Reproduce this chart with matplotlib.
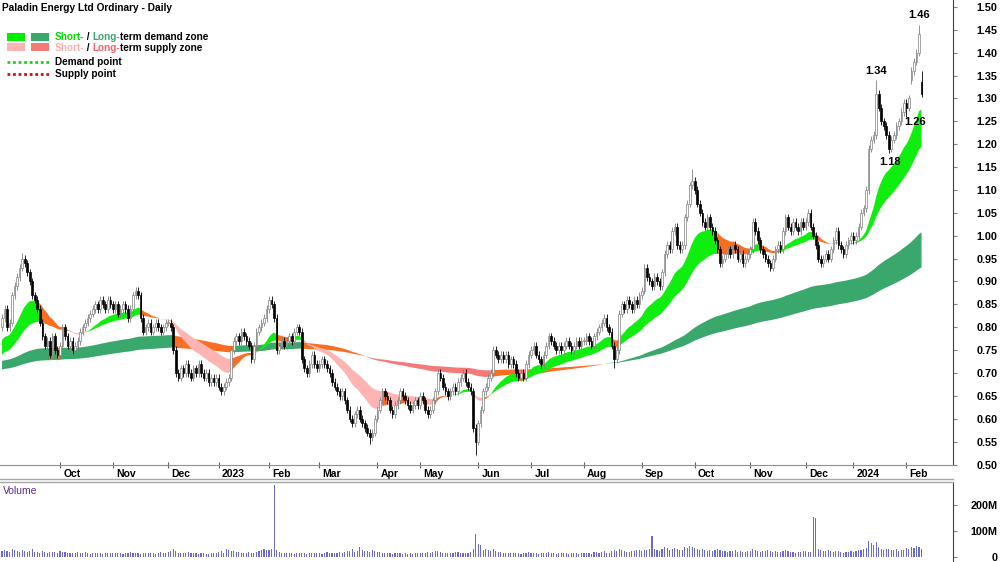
import numpy as np
import pandas as pd
import matplotlib
matplotlib.use("Agg")
import matplotlib.pyplot as plt
from matplotlib import transforms
from matplotlib.patches import Rectangle

plt.rcParams['font.family'] = ['Liberation Sans', 'DejaVu Sans']

# daily closes, one list per month
sep22 = [0.82, 0.84, 0.80, 0.81, 0.87, 0.89, 0.91, 0.93, 0.95, 0.94, 0.92, 0.90, 0.87, 0.86, 0.84, 0.81,
         0.78, 0.76, 0.77, 0.74, 0.78, 0.75, 0.74]
oct22 = [0.76, 0.80, 0.78, 0.76, 0.77, 0.75, 0.76, 0.77, 0.79, 0.80, 0.81, 0.82, 0.83, 0.84, 0.85, 0.84,
         0.86, 0.85, 0.84, 0.86, 0.85]
nov22 = [0.84, 0.85, 0.83, 0.84, 0.85, 0.84, 0.82, 0.84, 0.87, 0.88, 0.87, 0.82, 0.79, 0.80, 0.81, 0.79,
         0.80, 0.81, 0.80, 0.79, 0.80, 0.81]
dec22 = [0.81, 0.80, 0.75, 0.70, 0.69, 0.71, 0.70, 0.72, 0.70, 0.69, 0.71, 0.70, 0.72, 0.70, 0.69, 0.70,
         0.68, 0.69, 0.68, 0.69]
jan23 = [0.67, 0.66, 0.67, 0.68, 0.69, 0.75, 0.77, 0.78, 0.77, 0.79, 0.78, 0.77, 0.76, 0.73, 0.76, 0.79,
         0.80, 0.81, 0.82, 0.84]
feb23 = [0.86, 0.85, 0.82, 0.75, 0.76, 0.77, 0.76, 0.77, 0.78, 0.77, 0.79, 0.80, 0.79, 0.73, 0.71, 0.70,
         0.72, 0.74, 0.72, 0.71]
mar23 = [0.72, 0.73, 0.72, 0.71, 0.70, 0.68, 0.67, 0.66, 0.65, 0.66, 0.64, 0.62, 0.60, 0.59, 0.61, 0.62,
         0.60, 0.59, 0.58, 0.57, 0.56, 0.57, 0.60]
apr23 = [0.62, 0.64, 0.66, 0.65, 0.64, 0.62, 0.61, 0.63, 0.64, 0.66, 0.65, 0.64, 0.63, 0.62, 0.63, 0.64, 0.63]
may23 = [0.65, 0.64, 0.62, 0.61, 0.62, 0.64, 0.66, 0.70, 0.69, 0.67, 0.66, 0.65, 0.66, 0.67, 0.66, 0.68,
         0.69, 0.70, 0.68, 0.67, 0.66, 0.58, 0.55]
jun23 = [0.59, 0.62, 0.66, 0.67, 0.69, 0.70, 0.75, 0.74, 0.73, 0.74, 0.73, 0.74, 0.72, 0.73, 0.72, 0.70,
         0.69, 0.70, 0.69, 0.72, 0.74]
jul23 = [0.75, 0.76, 0.74, 0.73, 0.72, 0.74, 0.76, 0.78, 0.77, 0.76, 0.75, 0.76, 0.75, 0.76, 0.77, 0.76,
         0.75, 0.76, 0.77, 0.76, 0.77]
aug23 = [0.77, 0.78, 0.77, 0.76, 0.78, 0.79, 0.80, 0.81, 0.82, 0.80, 0.79, 0.76, 0.73, 0.75, 0.83, 0.85,
         0.84, 0.86, 0.85, 0.84, 0.86, 0.85, 0.87]
sep23 = [0.88, 0.93, 0.91, 0.90, 0.89, 0.91, 0.90, 0.89, 0.92, 0.96, 0.98, 0.97, 1.01, 1.02, 0.98, 0.97,
         0.98, 1.04, 1.07, 1.11, 1.12]
oct23 = [1.10, 1.07, 1.05, 1.03, 1.02, 1.04, 1.02, 1.01, 0.99, 0.97, 0.94, 0.95, 0.96, 0.97, 0.96, 0.98,
         0.97, 0.95, 0.96, 0.94, 0.95, 0.96]
nov23 = [0.97, 1.03, 1.01, 0.99, 0.97, 0.96, 0.95, 0.94, 0.93, 0.95, 0.97, 0.98, 0.97, 1.01, 1.04, 1.02,
         1.01, 1.03, 1.02, 1.01, 1.03, 1.02]
dec23 = [1.03, 1.05, 1.02, 1.00, 0.98, 0.95, 0.94, 0.95, 0.96, 0.95, 0.97, 0.99, 1.01, 0.98, 0.97, 0.96,
         0.98, 0.99, 1.00]
jan24 = [0.99, 1.00, 1.02, 1.05, 1.06, 1.10, 1.19, 1.21, 1.22, 1.31, 1.28, 1.25, 1.24, 1.22, 1.19, 1.21,
         1.22, 1.24, 1.25, 1.27, 1.29]
feb24 = [1.28, 1.30, 1.36, 1.38, 1.40, 1.44, 1.31]

# daily volume in millions
vol_sep22 = [22, 28, 25, 18, 30, 26, 24, 20, 27, 22, 19, 24, 30, 21, 18, 17, 23, 20, 16, 19, 21, 18, 17]
vol_oct22 = [24, 20, 18, 15, 17, 16, 14, 19, 16, 15, 18, 14, 13, 16, 15, 14, 17, 13, 15, 14, 16]
vol_nov22 = [15, 17, 14, 16, 13, 15, 14, 18, 16, 15, 14, 13, 16, 15, 17, 14, 15, 13, 16, 20, 14, 15]
vol_dec22 = [18, 24, 30, 22, 17, 15, 16, 14, 18, 15, 14, 16, 13, 15, 14, 12, 13, 15, 14, 16]
vol_jan23 = [18, 22, 16, 30, 26, 24, 22, 20, 18, 17, 16, 14, 18, 16, 17, 20, 22, 26, 30, 28]
vol_feb23 = [28, 30, 275, 26, 20, 16, 15, 14, 17, 15, 13, 14, 15, 16, 14, 13, 15, 14, 16, 15]
vol_mar23 = [14, 13, 15, 18, 16, 14, 15, 17, 20, 16, 18, 22, 24, 30, 20, 22, 38, 28, 24, 22, 20, 26, 24]
vol_apr23 = [20, 18, 16, 15, 17, 14, 13, 15, 16, 14, 13, 15, 12, 14, 13, 16, 14]
vol_may23 = [15, 14, 16, 18, 15, 20, 24, 22, 18, 16, 14, 15, 17, 16, 18, 20, 16, 15, 14, 16, 18, 30, 90]
vol_jun23 = [50, 45, 26, 32, 28, 24, 30, 22, 20, 18, 16, 17, 15, 14, 16, 15, 14, 13, 15, 16, 18]
vol_jul23 = [16, 15, 14, 13, 15, 14, 16, 18, 15, 14, 13, 14, 15, 16, 14, 13, 15, 14, 16, 13, 15]
vol_aug23 = [14, 16, 15, 13, 18, 20, 16, 18, 22, 17, 16, 22, 26, 24, 30, 28, 22, 20, 18, 24, 22, 26, 28]
vol_sep23 = [24, 26, 28, 30, 80, 30, 26, 24, 30, 40, 36, 28, 32, 36, 30, 26, 28, 38, 34, 42, 38]
vol_oct23 = [36, 30, 28, 32, 26, 24, 28, 22, 26, 30, 28, 24, 22, 20, 24, 22, 26, 20, 22, 18, 20, 22]
vol_nov23 = [24, 30, 26, 22, 20, 24, 22, 26, 24, 20, 22, 18, 20, 24, 26, 22, 20, 18, 16, 20, 18, 22]
vol_dec23 = [22, 18, 20, 155, 150, 30, 26, 22, 24, 28, 22, 20, 24, 22, 18, 16, 20, 18, 22]
vol_jan24 = [20, 24, 28, 26, 30, 36, 60, 55, 45, 58, 40, 30, 28, 32, 30, 26, 28, 30, 24, 26, 28]
vol_feb24 = [34, 30, 40, 36, 42, 38, 32]

# wick extremes and gap opens that stand out on the chart
spike_dates = ["2022-09-09", "2023-09-29", "2024-01-15", "2024-02-08", "2024-02-09"]
spike_highs = [0.962, 1.145, 1.34, 1.46, 1.36]
dip_dates = ["2023-01-04", "2023-03-29", "2023-05-31", "2023-08-17", "2024-01-22", "2024-02-01"]
dip_lows = [0.653, 0.545, 0.52, 0.71, 1.18, 1.26]
gap_dates = ["2024-02-05", "2024-02-09"]
gap_opens = [1.34, 1.335]

asx_holidays = ["2022-09-22", "2022-12-26", "2022-12-27", "2023-01-02", "2023-01-26", "2023-04-07",
                "2023-04-10", "2023-04-25", "2023-06-12", "2023-12-25", "2023-12-26", "2024-01-01",
                "2024-01-26"]

close = np.array(sep22 + oct22 + nov22 + dec22 + jan23 + feb23 + mar23 + apr23 + may23 + jun23 +
                 jul23 + aug23 + sep23 + oct23 + nov23 + dec23 + jan24 + feb24)
volume = np.array(vol_sep22 + vol_oct22 + vol_nov22 + vol_dec22 + vol_jan23 + vol_feb23 + vol_mar23 +
                  vol_apr23 + vol_may23 + vol_jun23 + vol_jul23 + vol_aug23 + vol_sep23 + vol_oct23 +
                  vol_nov23 + vol_dec23 + vol_jan24 + vol_feb24) * 1e6

days = pd.bdate_range("2022-08-30", "2024-03-29", freq="C", holidays=asx_holidays)
dates = days[:len(close)]
x = np.arange(len(close))

opn = np.r_[0.80, close[:-1]]
for d, v in zip(gap_dates, gap_opens):
    opn[dates.get_loc(pd.Timestamp(d))] = v
high = np.maximum(opn, close) + 0.008
low = np.minimum(opn, close) - 0.008
for d, v in zip(spike_dates, spike_highs):
    high[dates.get_loc(pd.Timestamp(d))] = v
for d, v in zip(dip_dates, dip_lows):
    low[dates.get_loc(pd.Timestamp(d))] = v


def ema(values, span, seed):
    a = 2.0 / (span + 1)
    out = np.empty(len(values))
    e = seed
    for i, v in enumerate(values):
        e = e + a * (v - e)
        out[i] = e
    return out


short_fast = ema(close, 20, 0.767)
short_slow = ema(close, 40, 0.736)
long_fast = ema(close, 150, 0.725)
long_slow = ema(close, 250, 0.707)

SHORT_UP, LONG_UP = '#10ee10', '#3aa76d'
SHORT_DN, LONG_DN = '#ffb4b4', '#f47a7a'
MIXED = '#fa6e23'


def draw_band(ax, fast, slow, price, colors):
    hi = np.maximum(fast, slow)
    lo = np.minimum(fast, slow)
    up = fast >= slow
    above = price >= (fast + slow) / 2
    state = np.where(up & above, 0, np.where(~up & ~above, 2, 1))
    for k, col in enumerate(colors):
        m = state == k
        m2 = m | np.r_[False, m[:-1]]
        ax.fill_between(x, lo, hi, where=m2, color=col, lw=0, interpolate=False)


fig = plt.figure(figsize=(10, 5.62), dpi=100)
ax = fig.add_axes([0, 1 - 465 / 562, 0.953, 465 / 562])
vax = fig.add_axes([0, 0, 0.953, 80 / 562])

draw_band(ax, long_fast, long_slow, close, [LONG_UP, MIXED, LONG_DN])
draw_band(ax, short_fast, short_slow, close, [SHORT_UP, MIXED, SHORT_DN])

# candles
up = close >= opn
ax.vlines(x[up], low[up], high[up], color='#808080', lw=0.6, zorder=3)
ax.vlines(x[~up], low[~up], high[~up], color='black', lw=0.6, zorder=3)
body = np.maximum(np.abs(close - opn), 0.002)
ax.bar(x[up], body[up], bottom=np.minimum(opn, close)[up], width=0.65, color='white',
       edgecolor='#808080', lw=0.5, zorder=4)
ax.bar(x[~up], body[~up], bottom=np.minimum(opn, close)[~up], width=0.65, color='black',
       edgecolor='black', lw=0.5, zorder=4)

ax.set_xlim(-0.8, 377.5)
ax.set_ylim(0.499, 1.515)
for s in ['top', 'left']:
    ax.spines[s].set_visible(False)
ax.spines['right'].set_color('#404040')
ax.spines['bottom'].set_color('#909090')
ax.yaxis.tick_right()
yt = np.round(np.arange(0.50, 1.501, 0.05), 2)
ax.set_yticks(yt)
ax.set_yticklabels([f"{v:.2f}" for v in yt], fontsize=7.8, fontweight='bold', ha='right')
ax.tick_params(axis='y', length=3, color='#808080', pad=29)

# month ticks with labels just right of the tick
month_start = np.r_[False, dates.month[1:] != dates.month[:-1]]
month_start &= dates >= pd.Timestamp("2022-09-15")
mpos = x[month_start]
mlab = [str(d.year) if d.month == 1 else d.strftime('%b') for d in dates[month_start]]
ax.set_xticks(mpos)
ax.set_xticklabels([])
ax.tick_params(axis='x', length=4, direction='inout', color='#606060')
tr = transforms.blended_transform_factory(ax.transData, ax.transAxes)
for p, lab in zip(mpos, mlab):
    ax.text(p + 1.3, -0.008, lab, transform=tr, ha='left', va='top', fontsize=7.5, fontweight='bold')

# value labels on the swing points
lab_kw = dict(textcoords='offset points', ha='center', fontsize=8, fontweight='bold')
i46 = dates.get_loc(pd.Timestamp("2024-02-08"))
i34 = dates.get_loc(pd.Timestamp("2024-01-15"))
i18 = dates.get_loc(pd.Timestamp("2024-01-22"))
i26 = dates.get_loc(pd.Timestamp("2024-02-01"))
ax.annotate(f"{high[i46]:.2f}", (x[i46], high[i46]), xytext=(0, 4), va='bottom', **lab_kw)
ax.annotate(f"{high[i34]:.2f}", (x[i34], high[i34]), xytext=(0, 3), va='bottom', **lab_kw)
ax.annotate(f"{low[i18]:.2f}", (x[i18], low[i18]), xytext=(1, -3), va='top', **lab_kw)
ax.annotate(f"{low[i26]:.2f}", (x[i26], low[i26]), xytext=(6, -4), va='center', **lab_kw)

# volume panel
vax.bar(x, volume, width=0.45, color='#6a6ad0', lw=0)
vax.set_xlim(-0.8, 377.5)
vax.set_ylim(-19e6, 288e6)
for s in ['top', 'left', 'bottom']:
    vax.spines[s].set_visible(False)
vax.spines['right'].set_color('#404040')
vax.yaxis.tick_right()
vax.set_yticks([0, 100e6, 200e6])
vax.set_yticklabels(['0', '100M', '200M'], fontsize=7.8, fontweight='bold', ha='right')
vax.tick_params(axis='y', length=3, color='#808080', pad=29)
vax.set_xticks([])

# overlay in pixel coordinates for title, legend and panel separator
ov = fig.add_axes([0, 0, 1, 1], zorder=10)
ov.set_xlim(0, 1000)
ov.set_ylim(562, 0)
ov.axis('off')
ov.plot([0, 953], [479, 479], color='#a8a8a8', lw=1)
ov.plot([0, 953], [482, 482], color='#a8a8a8', lw=1)
ov.text(2, 8, "Paladin Energy Ltd Ordinary - Daily", fontsize=7.3, fontweight='bold', va='center')
ov.text(3, 491, "Volume", fontsize=7.5, color='#5b2a90', va='center')

ov.add_patch(Rectangle((7, 33), 18, 8, color='#00ee00', lw=0))
ov.add_patch(Rectangle((31, 33), 18, 8, color=LONG_UP, lw=0))
ov.add_patch(Rectangle((7, 43), 18, 8, color=SHORT_DN, lw=0))
ov.add_patch(Rectangle((31, 43), 18, 8, color=LONG_DN, lw=0))
ov.plot([7, 49], [62, 62], color='#22cc22', lw=2, ls=(0, (1, 1)))
ov.plot([7, 49], [74, 74], color='#cc1010', lw=2, ls=(0, (1, 1)))


def color_text(x0, y0, parts):
    kw = dict(fontsize=7.2, fontweight='bold', va='center')
    t = ov.text(x0, y0, parts[0][0], color=parts[0][1], **kw)
    for s, c in parts[1:]:
        t = ov.annotate(s, xy=(1, 0.5), xycoords=t, ha='left', color=c, **kw)


color_text(55, 37, [("Short-", '#00dd00'), (" / ", 'black'), ("Long-", LONG_UP),
                    ("term demand zone", 'black')])
color_text(55, 48, [("Short-", '#ffb0b0'), (" / ", 'black'), ("Long-", '#f06666'),
                    ("term supply zone", 'black')])
ov.text(55, 62, "Demand point", fontsize=7.2, fontweight='bold', va='center')
ov.text(55, 74, "Supply point", fontsize=7.2, fontweight='bold', va='center')

fig.savefig("out.png", dpi=100)
